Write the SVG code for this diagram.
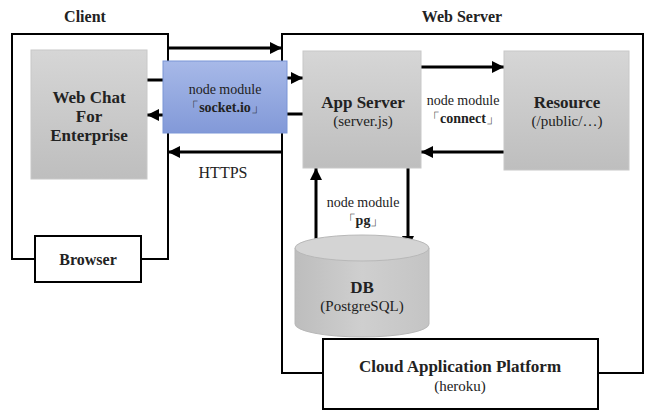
<svg xmlns="http://www.w3.org/2000/svg" width="645" height="410" viewBox="0 0 645 410">
<defs>
<linearGradient id="gray" x1="0" y1="0" x2="0" y2="1"><stop offset="0" stop-color="#d6d6d6"/><stop offset="1" stop-color="#bebebe"/></linearGradient>
<linearGradient id="blue" x1="0" y1="0" x2="0" y2="1"><stop offset="0" stop-color="#a7b9e8"/><stop offset="1" stop-color="#8299d8"/></linearGradient>
<linearGradient id="cyl" x1="0" y1="0" x2="1" y2="0"><stop offset="0" stop-color="#bdbdbd"/><stop offset="0.5" stop-color="#cfcfcf"/><stop offset="1" stop-color="#c4c4c4"/></linearGradient>
<marker id="ah" viewBox="0 0 10 10" refX="10" refY="5" markerWidth="4" markerHeight="4" orient="auto" markerUnits="strokeWidth"><path d="M0,0 L10,5 L0,10 z" fill="#000"/></marker>
</defs>
<style>
text{font-family:'Liberation Serif','Times New Roman',serif;fill:#222;text-anchor:middle}
.b{font-weight:bold}
.box{fill:url(#gray);stroke:#c8c8c8;stroke-width:1}
.frame{fill:none;stroke:#000;stroke-width:2}
.c{stroke:#000;stroke-width:3;fill:none}
.ca{stroke:#000;stroke-width:3;fill:none;marker-end:url(#ah)}
</style>
<rect width="645" height="410" fill="#fff"/>
<g id="client">
<path class="frame" d="M35,259 H12 V34 H168 V259 H141"/>
<text class="b" x="85" y="22" font-size="16">Client</text>
</g>
<g id="webserver">
<path class="frame" d="M323,373 H282 V34 H643 V373 H598"/>
<text class="b" x="462" y="22" font-size="16">Web Server</text>
</g>
<g id="connectors">
<line class="ca" x1="168" y1="48" x2="282" y2="48"/>
<line class="c" x1="147" y1="80" x2="165" y2="80"/>
<line class="ca" x1="287" y1="78" x2="303" y2="78"/>
<line class="c" x1="303" y1="114" x2="287" y2="114"/>
<line class="ca" x1="163" y1="115" x2="147" y2="115"/>
<line class="ca" x1="282" y1="152" x2="168" y2="152"/>
<line class="ca" x1="421" y1="67" x2="504" y2="67"/>
<line class="ca" x1="504" y1="152" x2="421" y2="152"/>
<line class="ca" x1="316" y1="248" x2="316" y2="168"/>
<line class="ca" x1="408" y1="168" x2="408" y2="248"/>
<text x="223" y="178" font-size="16">HTTPS</text>
<text x="463" y="105" font-size="14">node module</text>
<text x="463" y="123" font-size="14">「<tspan class="b">connect</tspan>」</text>
<text x="363" y="207" font-size="14">node module</text>
<text x="363" y="225" font-size="14">「<tspan class="b">pg</tspan>」</text>
</g>
<g id="webchat">
<rect class="box" x="31" y="50" width="116" height="129"/>
<text class="b" x="89" y="103" font-size="17">Web Chat</text>
<text class="b" x="89" y="122" font-size="17">For</text>
<text class="b" x="89" y="141" font-size="17">Enterprise</text>
</g>
<g id="socketio">
<rect x="163" y="61" width="124" height="72" fill="url(#blue)" stroke="#7a95d6" stroke-width="1"/>
<text x="225" y="94" font-size="14">node module</text>
<text x="225" y="112" font-size="14">「<tspan class="b">socket.io</tspan>」</text>
</g>
<g id="appserver">
<rect class="box" x="303" y="51" width="118" height="117"/>
<text class="b" x="363" y="108" font-size="17">App Server</text>
<text x="363" y="126" font-size="15">(server.js)</text>
</g>
<g id="resource">
<rect class="box" x="504" y="51" width="125" height="119"/>
<text class="b" x="567" y="108" font-size="17">Resource</text>
<text x="567" y="126" font-size="15">(/public/…)</text>
</g>
<g id="db">
<path d="M295,248 V324 A67,13 0 0 0 429,324 V248 Z" fill="url(#cyl)" stroke="#b8b8b8"/>
<ellipse cx="362" cy="248" rx="67" ry="13" fill="#d4d4d4" stroke="#b8b8b8"/>
<text class="b" x="362" y="293" font-size="17">DB</text>
<text x="362" y="311" font-size="15">(PostgreSQL)</text>
</g>
<g id="browser">
<rect x="35" y="236" width="106" height="46" fill="#fff" stroke="#000" stroke-width="2"/>
<text class="b" x="88" y="265" font-size="16">Browser</text>
</g>
<g id="cloud">
<rect x="323" y="339" width="275" height="70" fill="#fff" stroke="#000" stroke-width="2"/>
<text class="b" x="460" y="372" font-size="17">Cloud Application Platform</text>
<text x="460" y="391" font-size="15">(heroku)</text>
</g>
</svg>
